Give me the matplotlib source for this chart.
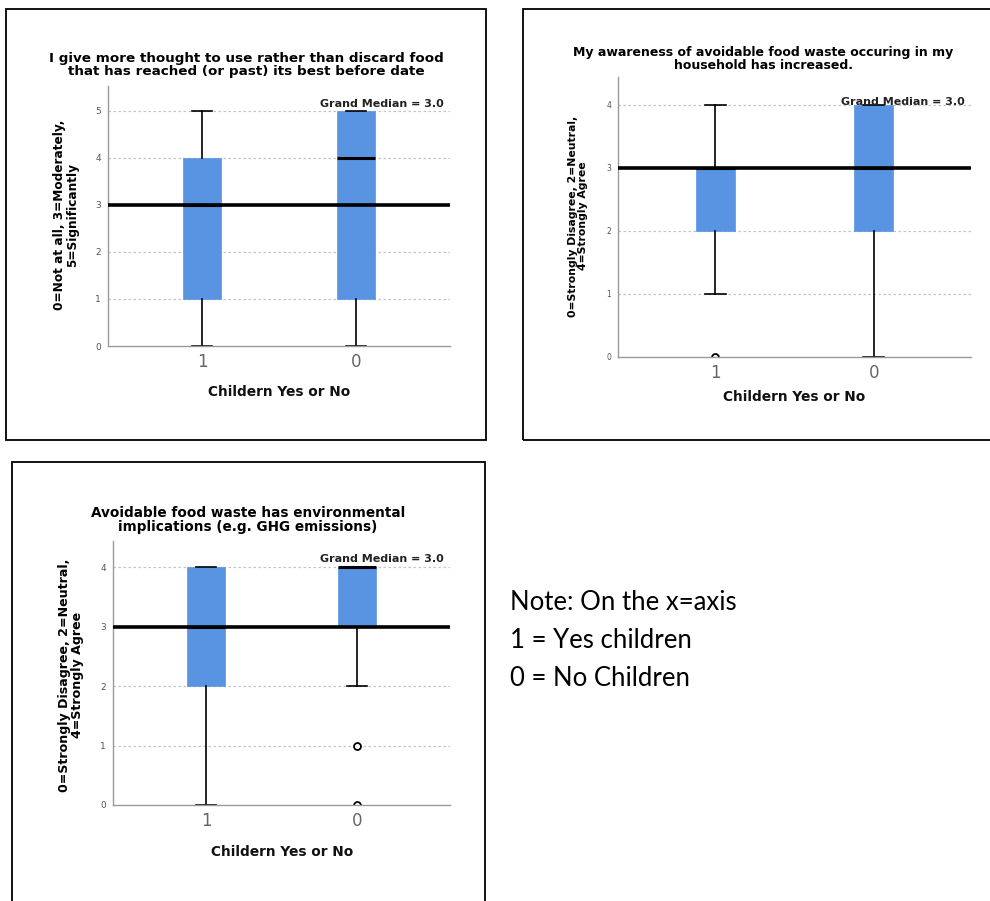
import matplotlib
matplotlib.use("Agg")
import matplotlib.pyplot as plt
from matplotlib.patches import Rectangle

W, H = 990, 901

# ---------------- data ----------------
categories = ["1", "0"]

titles = [
    "I give more thought to use rather than discard food\nthat has reached (or past) its best before date",
    "My awareness of avoidable food waste occuring in my\nhousehold has increased.",
    "Avoidable food waste has environmental\nimplications (e.g. GHG emissions)",
]
ylabels = [
    "0=Not at all, 3=Moderately,\n5=Significantly",
    "0=Strongly Disagree, 2=Neutral,\n4=Strongly Agree",
    "0=Strongly Disagree, 2=Neutral,\n4=Strongly Agree",
]
xlabel = "Childern Yes or No"
grand_medians = [3.0, 3.0, 3.0]
yticks = [[0, 1, 2, 3, 4, 5], [0, 1, 2, 3, 4], [0, 1, 2, 3, 4]]

# per panel, per category (1, 0)
q1 = [[1, 1], [2, 2], [2, 3]]
med = [[3, 4], [3, 3], [3, 4]]
q3 = [[4, 5], [3, 4], [4, 4]]
whislo = [[0, 0], [1, 0], [0, 2]]
whishi = [[5, 5], [4, 4], [4, 4]]
fliers = [[[], []], [[0], []], [[], [1, 0]]]

note_lines = ["Note: On the x=axis", "1 = Yes children", "0 = No Children"]

# ---------------- layout (pixels) ----------------
axes_px = [(108, 450, 86, 346), (618, 971, 77, 357), (113, 450, 541, 805)]
ylims = [(0, 5.53), (0, 4.44), (0, 4.44)]
title_pos = [(246, 65, 9.7), (763, 59, 9.0), (248, 520, 9.8)]
ylab_pos = [(66, 215, 8.7), (578, 216, 7.8), (71, 675, 9.1)]
xlab_pos = [(279, 392), (794, 397), (282, 852)]
gm_pos = [(444, 104), (965, 102), (444, 559)]
ytick_fs = [6.5, 5.5, 6.5]
borders = [(6, 9, 486, 440), (523, 9, 1000, 440), (12, 462, 485, 910)]

BLUE = "#5894e2"
GREY_TXT = "#555555"

fig = plt.figure(figsize=(W / 100, H / 100), dpi=100)
fig.patch.set_facecolor("white")


def fx(x):
    return x / W


def fy(y):
    return 1 - y / H


for (x0, y0, x1, y1) in borders:
    fig.add_artist(Rectangle((fx(x0), fy(y1)), fx(x1) - fx(x0), fy(y0) - fy(y1),
                             transform=fig.transFigure, fill=False,
                             edgecolor="black", linewidth=1.3, clip_on=False))

for i in range(3):
    l, r, t, b = axes_px[i]
    ax = fig.add_axes([fx(l), fy(b), fx(r) - fx(l), fy(t) - fy(b)])
    stats = []
    for j in range(2):
        stats.append(dict(q1=q1[i][j], med=med[i][j], q3=q3[i][j],
                          whislo=whislo[i][j], whishi=whishi[i][j],
                          fliers=fliers[i][j], label=categories[j]))
    ax.bxp(stats, positions=[0, 1], widths=0.25, patch_artist=True,
           showfliers=True,
           boxprops=dict(facecolor=BLUE, edgecolor=BLUE, linewidth=0.5),
           medianprops=dict(color="black", linewidth=2.2),
           whiskerprops=dict(color="black", linewidth=1.2),
           capprops=dict(color="black", linewidth=1.2),
           capwidths=0.13,
           flierprops=dict(marker="o", markersize=5, markerfacecolor="white",
                           markeredgecolor="black", markeredgewidth=1.3))
    ax.axhline(grand_medians[i], color="black", linewidth=2.6, zorder=5)
    ax.set_xlim(-0.615, 1.615)
    ax.set_ylim(*ylims[i])
    ax.set_yticks(yticks[i])
    ax.set_yticklabels([str(v) for v in yticks[i]], fontsize=ytick_fs[i], color=GREY_TXT)
    ax.set_xticks([0, 1])
    ax.set_xticklabels(categories, fontsize=12, color="#666666")
    ax.tick_params(axis="both", length=0)
    ax.tick_params(axis="y", pad=5)
    ax.tick_params(axis="x", pad=5)
    for v in yticks[i][1:]:
        ax.axhline(v, color="#c4c4c4", linewidth=0.9, linestyle=(0, (2, 2)), zorder=0)
    for s in ["top", "right"]:
        ax.spines[s].set_visible(False)
    ax.spines["left"].set_color("#9a9a9a")
    ax.spines["bottom"].set_color("#9a9a9a")
    ax.spines["left"].set_linewidth(1.0)
    ax.spines["bottom"].set_linewidth(1.0)
    ax.set_facecolor("white")

    tx, ty, tfs = title_pos[i]
    fig.text(fx(tx), fy(ty), titles[i], ha="center", va="center", fontsize=tfs,
             fontweight="bold", linespacing=1.0, family="DejaVu Sans")
    yx, yy, yfs = ylab_pos[i]
    fig.text(fx(yx), fy(yy), ylabels[i], ha="center", va="center", rotation=90,
             fontsize=yfs, fontweight="bold", linespacing=1.0, family="DejaVu Sans")
    xx, xy = xlab_pos[i]
    fig.text(fx(xx), fy(xy), xlabel, ha="center", va="center", fontsize=9.9,
             fontweight="bold", color="#111111", family="DejaVu Sans")
    gx, gy = gm_pos[i]
    fig.text(fx(gx), fy(gy), "Grand Median = %.1f" % grand_medians[i], ha="right",
             va="center", fontsize=8.0, fontweight="bold", color="#222222",
             family="DejaVu Sans")

for k, line in enumerate(note_lines):
    fig.text(fx(510), fy(603 + 38 * k), line, ha="left", va="center",
             fontsize=18.5, family="Lato")

fig.savefig("out.png", dpi=100)
